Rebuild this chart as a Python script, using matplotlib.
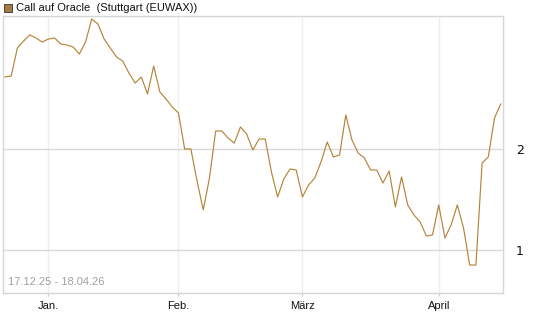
import matplotlib
matplotlib.use("Agg")
import matplotlib.pyplot as plt
from matplotlib.patches import Rectangle

# Handelstage 17.12.25 - 18.04.26 (Index 0..80)
prices = [
    2.713, 2.723, 3.000, 3.069, 3.129, 3.099, 3.059, 3.089, 3.099, 3.040,
    3.030, 3.010, 2.941, 3.059, 3.287, 3.238, 3.089, 3.000, 2.911, 2.871,
    2.752, 2.653, 2.713, 2.545, 2.822, 2.564, 2.495, 2.416, 2.356, 2.000,
    2.000, 1.683, 1.396, 1.713, 2.178, 2.178, 2.109, 2.059, 2.218, 2.149,
    1.990, 2.099, 2.099, 1.772, 1.525, 1.703, 1.802, 1.792, 1.525, 1.644,
    1.713, 1.871, 2.069, 1.921, 1.941, 2.337, 2.089, 1.960, 1.911, 1.792,
    1.792, 1.663, 1.782, 1.426, 1.723, 1.446, 1.347, 1.277, 1.139, 1.149,
    1.446, 1.119, 1.248, 1.446, 1.218, 0.851, 0.851, 1.861, 1.921, 2.307,
    2.446,
]
month_idx = [7, 28, 48, 70]
month_labels = ["Jan.", "Feb.", "März", "April"]
y_ticks = [1, 2]
title = "Call auf Oracle  (Stuttgart (EUWAX))"
period = "17.12.25 - 18.04.26"

line_color = "#b5843a"
plt.rcParams["font.family"] = ["Liberation Sans", "DejaVu Sans"]

fig = plt.figure(figsize=(5.45, 3.27), dpi=100)
ax = fig.add_axes([3 / 545, 34 / 327, 500.3 / 545, 277 / 327])

ax.plot(range(len(prices)), prices, color=line_color, lw=0.85)

ax.set_xlim(-0.32, 80.42)
ax.set_ylim(0.574, 3.317)

ax.set_xticks(month_idx)
ax.set_xticklabels(month_labels, fontsize=8, color="#111111")
ax.set_yticks(y_ticks)
ax.set_yticklabels([str(t) for t in y_ticks], fontsize=9, color="#111111",
                   family="DejaVu Sans")
ax.yaxis.tick_right()
ax.tick_params(axis="y", length=0, pad=9)
ax.tick_params(axis="x", length=2, color="#cccccc", pad=4)

for m in month_idx:
    ax.axvline(m, color="#eeeeee", lw=1, zorder=0)
for t in y_ticks:
    ax.axhline(t, color="#d9d9d9", lw=1, zorder=0)

for s in ax.spines.values():
    s.set_color("#d6d6d6")
    s.set_linewidth(1)

ax.text(0.01, 0.02, period, transform=ax.transAxes, fontsize=8,
        color="#a0a0a0", ha="left", va="bottom")

fig.patches.append(Rectangle((4 / 545, 1 - 12 / 327), 8 / 545, 8 / 327,
                             transform=fig.transFigure, facecolor="#a57a44",
                             edgecolor="#333333", lw=0.6))
fig.text(16 / 545, 1 - 8 / 327, title, fontsize=8, color="#111111",
         ha="left", va="center")

fig.savefig("out.png", dpi=100)
